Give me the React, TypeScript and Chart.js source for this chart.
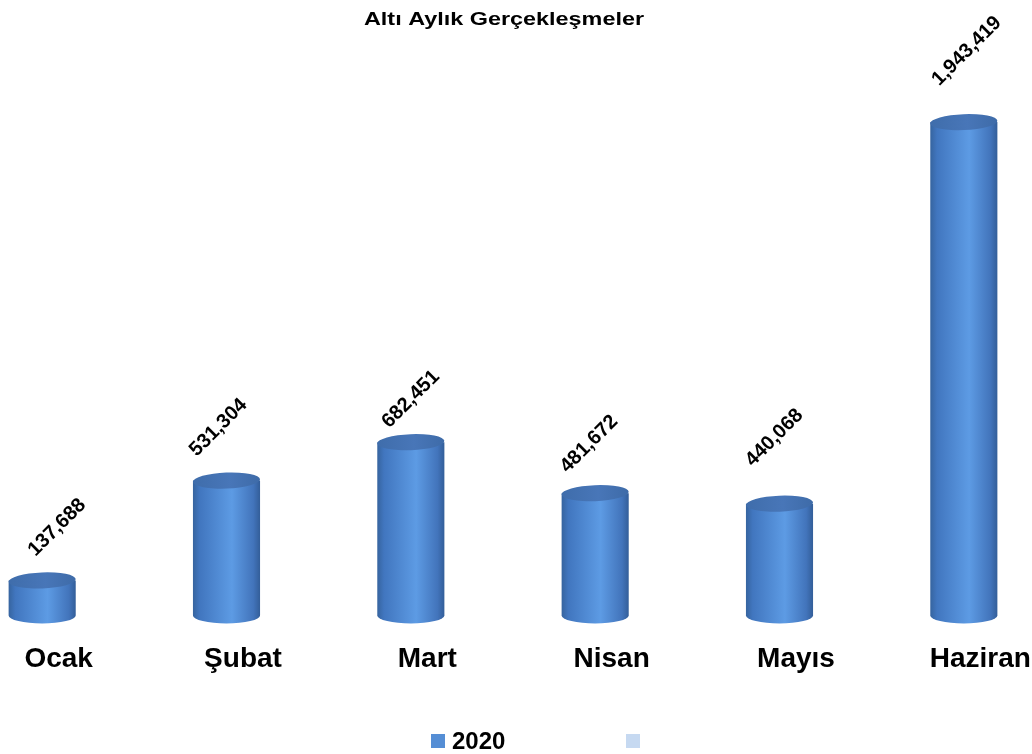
import React, { useEffect, useRef } from "react";
import { Chart, registerables } from "chart.js";

Chart.register(...registerables);

// ---- data ----
const TITLE = "Altı Aylık Gerçekleşmeler";
const MONTHS = ["Ocak", "Şubat", "Mart", "Nisan", "Mayıs", "Haziran"];
const VALUES_2020 = [137688, 531304, 682451, 481672, 440068, 1943419];
const SERIES_LABELS = ["2020", ""];
const Y_MAX = 2200000;

// ---- style constants ----
const FONT = "'Liberation Sans', Arial, Helvetica, sans-serif";
const SERIES_COLORS = ["#558ED5", "#C6D9F1"];
const CANVAS_W = 1106;
const CANVAS_H = 754;
const CANVAS_LEFT = -50;
// per-label nudge (dx, dy) of rotated value labels relative to bar top
const LABEL_NUDGE: [number, number][] = [
  [15, -53],
  [-8, -53],
  [0, -43],
  [-6, -49],
  [-5, -66],
  [3, -71],
];

const fmt = (v: number) => v.toLocaleString("en-US");

const cylinderPlugin = {
  id: "cylinders",
  beforeDatasetDraw() {
    return false;
  },
  afterDatasetsDraw(chart: any) {
    const ctx = chart.ctx as CanvasRenderingContext2D;
    const meta = chart.getDatasetMeta(0);
    const values = chart.data.datasets[0].data as number[];
    meta.data.forEach((bar: any, i: number) => {
      const { x, y, base, width } = bar.getProps(["x", "y", "base", "width"], true);
      const rx = width / 2;
      const ry = 8;
      const left = x - rx;
      const right = x + rx;
      ctx.save();
      // body
      const g = ctx.createLinearGradient(left, 0, right, 0);
      g.addColorStop(0, "#36649f");
      g.addColorStop(0.1, "#4176bf");
      g.addColorStop(0.58, "#5d9be4");
      g.addColorStop(0.9, "#4274bb");
      g.addColorStop(1, "#335e99");
      ctx.beginPath();
      ctx.moveTo(left, y);
      ctx.lineTo(left, base);
      ctx.ellipse(x, base, rx, ry, 0, Math.PI, 0, true);
      ctx.lineTo(right, y);
      ctx.closePath();
      ctx.fillStyle = g;
      ctx.fill();
      // top
      const gt = ctx.createLinearGradient(left, 0, right, 0);
      gt.addColorStop(0, "#3f6dab");
      gt.addColorStop(0.55, "#4876b8");
      gt.addColorStop(1, "#3e6ba8");
      ctx.beginPath();
      ctx.ellipse(x, y, rx, ry, -0.04, 0, Math.PI * 2);
      ctx.fillStyle = gt;
      ctx.fill();
      ctx.restore();

      // value label, rotated
      const [dx, dy] = LABEL_NUDGE[i] || [0, -55];
      ctx.save();
      ctx.translate(x + dx, y + dy);
      ctx.rotate(-Math.PI / 4);
      ctx.font = `bold 20px ${FONT}`;
      ctx.fillStyle = "#000";
      ctx.textAlign = "center";
      ctx.textBaseline = "middle";
      ctx.fillText(fmt(values[i]), 0, 0);
      ctx.restore();
    });
  },
};

const titleLegendPlugin = {
  id: "titleLegend",
  afterDraw(chart: any) {
    const ctx = chart.ctx as CanvasRenderingContext2D;
    // title (horizontally stretched like the original)
    ctx.save();
    ctx.translate(504 - CANVAS_LEFT, 20);
    ctx.scale(1.3, 1);
    ctx.font = `bold 18px ${FONT}`;
    ctx.fillStyle = "#000";
    ctx.textAlign = "center";
    ctx.textBaseline = "middle";
    ctx.fillText(TITLE, 0, 0);
    ctx.restore();

    // legend
    const startX = 431 - CANVAS_LEFT;
    const step = 195;
    const boxY = 734;
    chart.data.datasets.forEach((ds: any, i: number) => {
      const bx = startX + step * i;
      ctx.save();
      ctx.fillStyle = ds.backgroundColor;
      ctx.fillRect(bx, boxY, 14, 14);
      if (ds.label) {
        ctx.font = `bold 24px ${FONT}`;
        ctx.fillStyle = "#000";
        ctx.textAlign = "left";
        ctx.textBaseline = "middle";
        ctx.fillText(ds.label, bx + 21, boxY + 8);
      }
      ctx.restore();
    });
  },
};

export default function App() {
  const ref = useRef<HTMLCanvasElement | null>(null);
  useEffect(() => {
    if (!ref.current) return;
    const chart = new Chart(ref.current, {
      type: "bar",
      data: {
        labels: MONTHS,
        datasets: [
          {
            label: SERIES_LABELS[0],
            data: VALUES_2020,
            backgroundColor: SERIES_COLORS[0],
            barPercentage: 0.364,
            categoryPercentage: 1,
            grouped: false,
          },
          {
            label: SERIES_LABELS[1],
            data: [],
            backgroundColor: SERIES_COLORS[1],
            grouped: false,
          },
        ],
      },
      options: {
        responsive: false,
        animation: false,
        devicePixelRatio: 1,
        layout: { padding: { top: 57, bottom: 51, left: 0, right: 0 } },
        plugins: {
          legend: { display: false },
          title: { display: false },
          tooltip: { enabled: false },
        },
        scales: {
          x: {
            grid: { display: false, drawTicks: false },
            border: { display: false },
            ticks: {
              color: "#000",
              font: { family: FONT, size: 28, weight: "bold" },
              padding: 27,
              labelOffset: 16.5,
              maxRotation: 0,
              autoSkip: false,
            },
          },
          y: {
            display: false,
            min: 0,
            max: Y_MAX,
          },
        },
      },
      plugins: [cylinderPlugin, titleLegendPlugin],
    } as any);
    return () => chart.destroy();
  }, []);

  return (
    <div
      style={{
        position: "fixed",
        left: 0,
        top: 0,
        width: 1032,
        height: 754,
        overflow: "hidden",
        background: "#fff",
      }}
    >
      <canvas
        ref={ref}
        width={CANVAS_W}
        height={CANVAS_H}
        style={{ position: "absolute", left: CANVAS_LEFT, top: 0, width: CANVAS_W, height: CANVAS_H }}
      />
    </div>
  );
}
